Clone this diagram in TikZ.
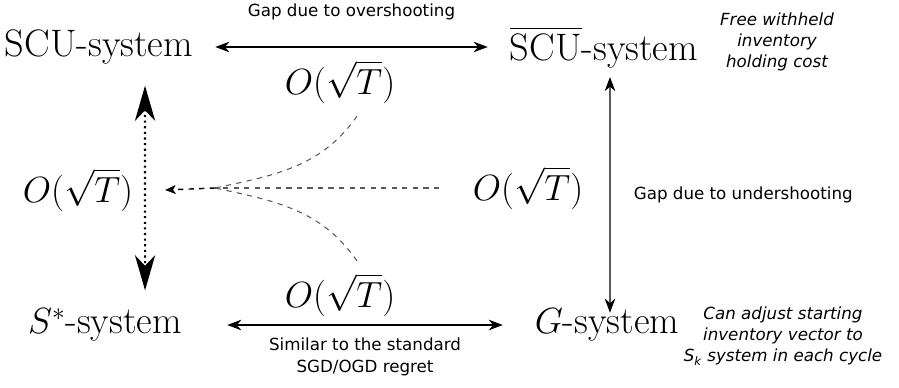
\documentclass[tikz,border=0pt]{standalone}
\usepackage{fontspec}
\setsansfont{DejaVu Sans}
\usetikzlibrary{positioning, arrows.meta, calc}
\usepackage{amsmath}

\begin{document}
\begin{tikzpicture}[
    x=0.02cm, y=-0.02cm,
    sys/.style={
      inner sep=4pt, font=\fontsize{21.8}{26}\selectfont
    },
    bound/.style={
      inner sep=4pt, font=\fontsize{20.5}{24}\selectfont
    },
    note/.style={
      align=center, font=\sffamily\itshape\fontsize{9.5}{12}\selectfont
    },
    gap/.style={
      align=center, font=\sffamily\fontsize{9.5}{12.5}\selectfont
    },
    biarr/.style={{Stealth[length=8pt, width=6pt, inset=2.5pt]}-{Stealth[length=8pt, width=6pt, inset=2.5pt]}, line width=0.6pt},
    dotArr/.style={{Stealth[length=20pt, width=11.5pt, inset=6pt]}-{Stealth[length=20pt, width=11.5pt, inset=6pt]}, line width=1.2pt, dotted},
    dashLine/.style={dashed, line width=0.6pt, color=black!65},
    dashArr/.style={-{Stealth[length=6pt, width=5pt, inset=1.5pt]}, dashed, line width=0.8pt}
  ]
  \useasboundingbox (0,0) rectangle (899,388);
  % Systemen
  \node[sys] (scu)   at (99,47)  {SCU-system};
  \node[sys] (scubar) at (604,47) {$\overline{\mathrm{SCU}}$-system};
  \node[sys] (sstar) at (105,325) {$S^*$-system};
  \node[sys] (gsys)  at (607,325) {$G$-system};
  % Notities
  \node[note] (freenote) at (777,42) {Free withheld\\inventory\\holding cost};
  \node[note] (adjnote)  at (783,336) {Can adjust starting\\inventory vector to\\S\textsubscript{k} system in each cycle};
  % Grenzen
  \node[bound] (oleft)  at (78,190)  {$O(\sqrt{T})$};
  \node[bound] (otop)   at (340,82)  {$O(\sqrt{T})$};
  \node[bound] (oright) at (528,188) {$O(\sqrt{T})$};
  \node[bound] (obot)   at (340,295) {$O(\sqrt{T})$};
  \coordinate (conv) at (215,188);
  % Verbindingen
  \draw[biarr] ([xshift=8.5pt]scu.east) -- node[gap, above=0.42cm]{Gap due to overshooting} ([xshift=-8.5pt]scubar.west);
  \draw[biarr] ([xshift=21.6pt]sstar.east) -- node[gap, below=0.12cm]{Similar to the standard\\SGD/OGD regret} ([xshift=-14pt]gsys.west);
  \draw[biarr] ([xshift=1.7pt,yshift=-6.5pt]gsys.north) -- node[gap, right=0.35cm]{Gap due to undershooting} ([xshift=3.4pt,yshift=-1pt]scubar.south);
  \draw[dotArr] ([xshift=26.2pt,yshift=-8pt]scu.south) -- ([xshift=22.8pt,yshift=6.2pt]sstar.north);
  % Samenvoegen
  \draw[dashLine] ([xshift=9.7pt,yshift=-3pt]otop.south) to[out=-125, in=12] (conv);
  \draw[dashLine] ([xshift=9.7pt,yshift=3pt]obot.north) to[out=125, in=-12] (conv);
  \draw[dashLine] ([xshift=-15pt]oright.west) -- (conv);
  \draw[dashArr] (conv) -- ([xshift=14pt]oleft.east);
\end{tikzpicture}
\end{document}
